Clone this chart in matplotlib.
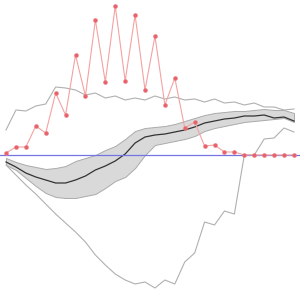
import matplotlib
matplotlib.use("Agg")
import matplotlib.pyplot as plt
import numpy as np

H = 294  # values are read as height above the bottom edge (pixels)

red_px = [153, 147, 147, 126, 133, 93, 115, 55, 96, 20, 82, 6, 81, 15, 90,
          36, 105, 78, 128, 122, 146, 145, 152, 152, 155, 155, 155, 155, 155, 155]
upper_px = [130, 110, 111, 106, 104, 87, 88, 90, 95, 93, 98, 96, 100, 98, 100,
            96, 99, 97, 100, 99, 102, 99, 103, 102, 105, 103, 107, 107, 110, 109]
lower_px = [165, 175, 185, 194, 204, 214, 223, 232, 242, 255, 265, 274, 280, 284, 282,
            288, 280, 284, 262, 253, 222, 225, 211, 214, 155, 155, 139, 138, 128, 132]
median_px = [162, 167, 173, 177, 180, 183, 183, 180, 176, 170, 166, 161, 154, 143, 137,
             135, 134, 132, 130, 127, 123, 121, 119, 118, 116, 116, 115, 118, 117, 121]
band_hi_px = [158, 162, 165, 167, 169, 168, 166, 161, 158, 155, 150, 146, 139, 131, 128,
              127, 126, 124, 121, 118, 115, 113, 112, 111, 111, 110, 109, 110, 110, 113]
band_lo_px = [165, 170, 178, 186, 193, 197, 198, 198, 196, 194, 188, 181, 177, 168, 155,
              145, 143, 141, 139, 136, 131, 128, 126, 124, 122, 121, 120, 119, 118, 122]
ref_px = 155

x = np.arange(len(red_px))
conv = lambda a: H - np.array(a, dtype=float)
red = conv(red_px)
upper = conv(upper_px)
lower = conv(lower_px)
median = conv(median_px)
band_hi = conv(band_hi_px)
band_lo = conv(band_lo_px)
ref = H - ref_px

fig = plt.figure(figsize=(3.0, 2.94), dpi=100)
ax = fig.add_axes([0, 0, 1, 1])
ax.set_axis_off()

ax.fill_between(x, band_lo, band_hi, facecolor="#d9d9d9", edgecolor="#aaaaaa",
                linewidth=0.7, zorder=1)
ax.plot(x, upper, color="#b0b0b0", linewidth=0.8, zorder=2)
ax.plot(x, lower, color="#b0b0b0", linewidth=0.8, zorder=2)
ax.plot(x, median, color="#333333", linewidth=0.9, zorder=3)
ax.axhline(ref, color="#7474e4", linewidth=0.9, zorder=4)
ax.plot(x, red, color="#f4a2a2", linewidth=0.8, zorder=5)
ax.plot(x, red, linestyle="none", marker="o", markersize=2.8,
        markerfacecolor="#e8606a", markeredgecolor="#ec7a80", markeredgewidth=0.4, zorder=6)

step = 9.93
ax.set_xlim(-6 / step, (300 - 6) / step)
ax.set_ylim(0, H)

fig.savefig("out.png", dpi=100)
